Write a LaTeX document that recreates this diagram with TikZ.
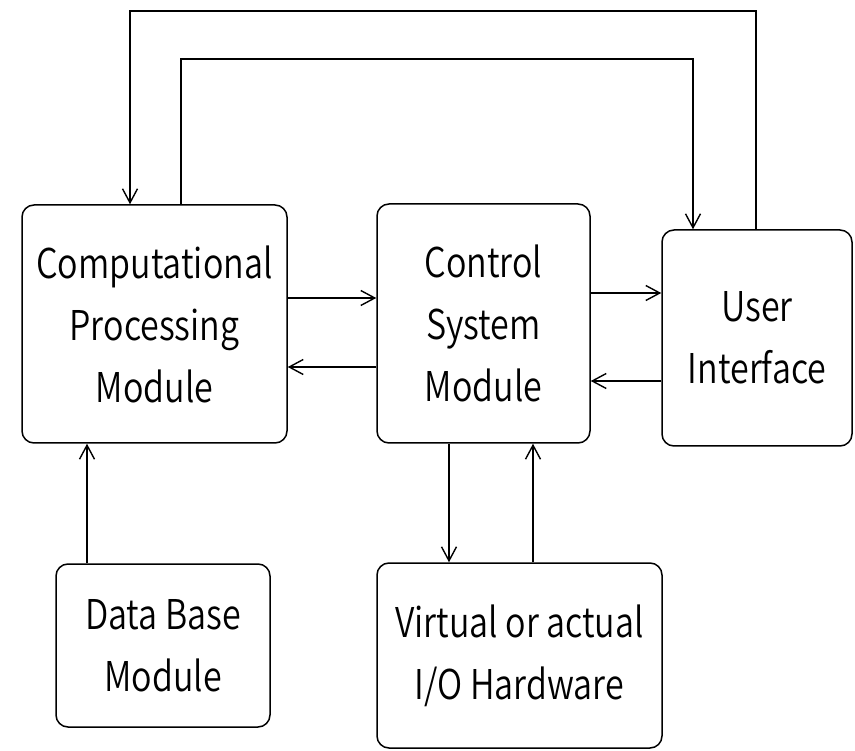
\documentclass[tikz,border=0pt]{standalone}
\usepackage{fontspec}
\setmainfont{Noto Sans CJK KR}[UprightFont={* DemiLight}, FakeStretch=0.83]
\usetikzlibrary{arrows.meta}
\begin{document}
\begin{tikzpicture}[x=1pt,y=-1pt,
  block/.style={draw, line width=1.5pt, rounded corners=12pt, align=center,
    font=\fontsize{41}{62}\selectfont, inner sep=0pt},
  arr/.style={line width=1.4pt, -{Straight Barb[length=14pt,width=15pt,line width=1.4pt]}}]
\useasboundingbox (0,0) rectangle (855,751);

% module blocks
\node[block, minimum width=265pt, minimum height=238pt] (cpm) at (154.5,324)
  {Computational\\Processing\\Module};
\node[block, minimum width=213pt, minimum height=239pt] (csm) at (483.5,323.5)
  {Control\\System\\Module};
\node[block, minimum width=190pt, minimum height=216pt] (ui) at (757,338)
  {User\\Interface};
\node[block, minimum width=214pt, minimum height=163pt] (db) at (163,645.5)
  {Data Base\\Module};
\node[block, minimum width=285pt, minimum height=185pt] (io) at (519.5,655.5)
  {Virtual or actual\\I/O Hardware};

% feedback loops across the top
\draw[arr] (ui.north -| 756,0) -- (756,11) -- (130,11) -- (cpm.north -| 130,0);
\draw[arr] (cpm.north -| 181,0) -- (181,59) -- (693,59) -- (ui.north -| 693,0);

% horizontal links
\draw[arr] (cpm.east |- 0,298) -- (csm.west |- 0,298);
\draw[arr] (csm.west |- 0,367) -- (cpm.east |- 0,367);
\draw[arr] (csm.east |- 0,293) -- (ui.west |- 0,293);
\draw[arr] (ui.west |- 0,381) -- (csm.east |- 0,381);

% vertical links
\draw[arr] (db.north -| 87,0) -- (cpm.south -| 87,0);
\draw[arr] (csm.south -| 449,0) -- (io.north -| 449,0);
\draw[arr] (io.north -| 533,0) -- (csm.south -| 533,0);
\end{tikzpicture}
\end{document}
